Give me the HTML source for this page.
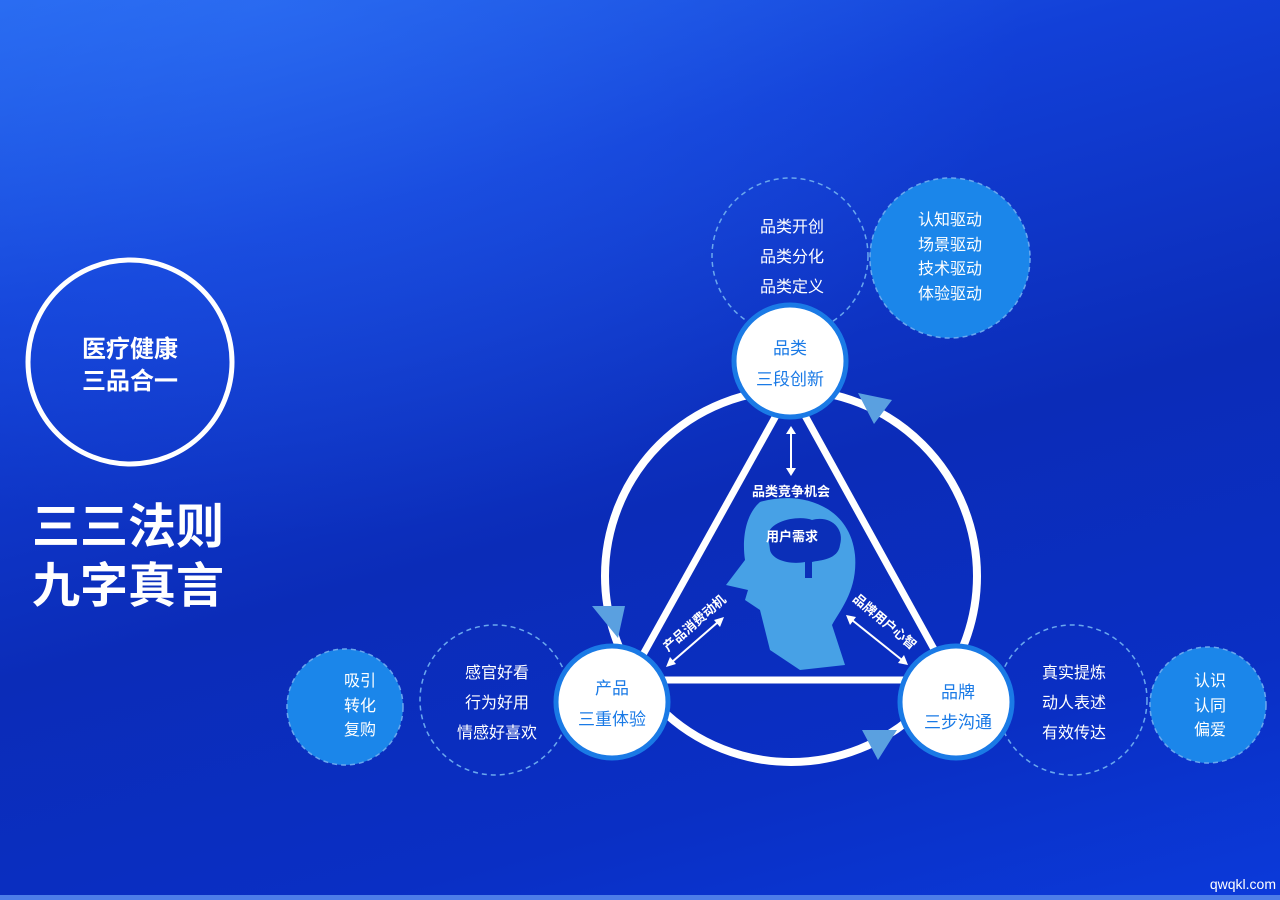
<!DOCTYPE html>
<html><head><meta charset="utf-8"><style>
html,body{margin:0;padding:0;width:1280px;height:900px;overflow:hidden}
body{background:linear-gradient(165deg,#2566ee 0%,#1240d8 25%,#0b2cb8 55%,#0a2fc4 80%,#0b3ada 100%)}
svg{position:absolute;left:0;top:0}
text{font-family:"Liberation Sans","Noto Sans CJK SC",sans-serif}
</style></head><body>
<svg width="1280" height="900" viewBox="0 0 1280 900">
<defs>
<radialGradient id="g1" cx="0.2" cy="0" r="0.6">
<stop offset="0" stop-color="#3a82ff" stop-opacity="0.35"/>
<stop offset="1" stop-color="#3a82ff" stop-opacity="0"/>
</radialGradient>
</defs>
<rect width="1280" height="900" fill="url(#g1)"/>
<rect y="895" width="1280" height="5" fill="#4d7de8"/>
<circle cx="130" cy="362" r="102" fill="none" stroke="#fff" stroke-width="5"/>
<text x="130" y="357" fill="#fff" font-size="24" font-weight="bold" text-anchor="middle">医疗健康</text>
<text x="130" y="389" fill="#fff" font-size="24" font-weight="bold" text-anchor="middle">三品合一</text>
<text x="128" y="543" fill="#fff" font-size="48" font-weight="bold" text-anchor="middle">三三法则</text>
<text x="128" y="602" fill="#fff" font-size="48" font-weight="bold" text-anchor="middle">九字真言</text>
<circle cx="791" cy="576" r="186" fill="none" stroke="#fff" stroke-width="8"/>
<g stroke="#fff" stroke-width="7" fill="none">
<line x1="778" y1="412" x2="640" y2="660"/>
<line x1="803" y1="412" x2="940" y2="660"/>
<line x1="660" y1="680" x2="910" y2="680"/>
</g>
<polygon points="858,393 892,400 874,424" fill="#5aa0e0"/>
<polygon points="592,606 625,606 618,638" fill="#5aa0e0"/>
<polygon points="862,730 897,730 878,760" fill="#5aa0e0"/>
<path d="M760 502 C800 490,850 505,855 555 C858 590,840 610,832 625 L845 665 L800 670 L770 650 L760 610 L745 600 L748 590 L726 585 L745 560 C742 540,745 515,760 502 Z" fill="#47a1e6"/>
<path d="M768 535 C770 520,800 515,812 520 C830 515,845 528,840 545 C838 560,820 560,812 562 L812 578 L805 578 L805 562 C790 565,772 560,770 550 Z" fill="#0b2fb8"/>
<text x="792" y="541" fill="#fff" font-size="13" font-weight="bold" text-anchor="middle">用户需求</text>
<text x="791" y="496" fill="#fff" font-size="13" font-weight="bold" text-anchor="middle">品类竞争机会</text>
<g stroke="#fff" stroke-width="2" fill="#fff">
<line x1="791" y1="432" x2="791" y2="470"/>
<polygon points="786,434 796,434 791,426" stroke="none"/>
<polygon points="786,468 796,468 791,476" stroke="none"/>
<line x1="672" y1="662" x2="718" y2="622"/>
<polygon points="666,667 676,664 670,657" stroke="none"/>
<polygon points="724,617 714,620 720,627" stroke="none"/>
<line x1="852" y1="620" x2="902" y2="660"/>
<polygon points="846,615 856,617 850,625" stroke="none"/>
<polygon points="908,665 898,663 904,655" stroke="none"/>
</g>
<text transform="translate(668,652) rotate(-41)" fill="#fff" font-size="13" font-weight="bold">产品消费动机</text>
<text transform="translate(852,600) rotate(40)" fill="#fff" font-size="13" font-weight="bold">品牌用户心智</text>
<g fill="none" stroke="#6aa8ee" stroke-width="1.5" stroke-dasharray="5,4">
<circle cx="790" cy="256" r="78"/>
<circle cx="495" cy="700" r="75"/>
<circle cx="1072" cy="700" r="75"/>
</g>
<g fill="#1b86ea" stroke="#6aa8ee" stroke-width="1.5" stroke-dasharray="5,4">
<circle cx="950" cy="258" r="80"/>
<circle cx="345" cy="707" r="58"/>
<circle cx="1208" cy="705" r="58"/>
</g>
<g fill="#fff" font-size="16" text-anchor="middle">
<text x="792" y="232">品类开创</text><text x="792" y="262">品类分化</text><text x="792" y="292">品类定义</text>
<text x="950" y="225">认知驱动</text><text x="950" y="250">场景驱动</text><text x="950" y="274">技术驱动</text><text x="950" y="299">体验驱动</text>
<text x="497" y="678">感官好看</text><text x="497" y="708">行为好用</text><text x="497" y="738">情感好喜欢</text>
<text x="360" y="686">吸引</text><text x="360" y="711">转化</text><text x="360" y="735">复购</text>
<text x="1074" y="678">真实提炼</text><text x="1074" y="708">动人表述</text><text x="1074" y="738">有效传达</text>
<text x="1210" y="686">认识</text><text x="1210" y="711">认同</text><text x="1210" y="735">偏爱</text>
</g>
<g fill="#fff" stroke="#1a7ae6" stroke-width="5">
<circle cx="790" cy="361" r="56"/>
<circle cx="612" cy="702" r="56"/>
<circle cx="956" cy="702" r="56"/>
</g>
<g fill="#1a7ae6" font-size="17" text-anchor="middle">
<text x="790" y="354">品类</text><text x="790" y="385">三段创新</text>
<text x="612" y="694">产品</text><text x="612" y="725">三重体验</text>
<text x="958" y="698">品牌</text><text x="958" y="728">三步沟通</text>
</g>
<text x="1276" y="889" fill="#fff" font-size="14" text-anchor="end" font-family="Liberation Mono">qwqkl.com</text>
</svg>
</body></html>
